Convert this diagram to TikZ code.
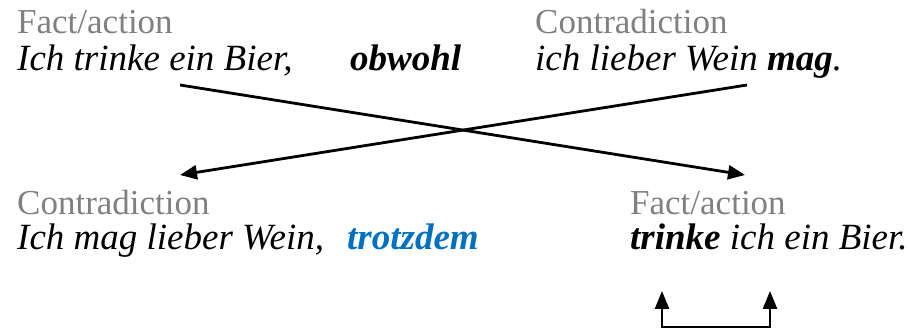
\documentclass[tikz,border=0pt]{standalone}
\usepackage{fontspec}
\setmainfont{Liberation Serif}
\usepackage{tikz}
\usetikzlibrary{arrows.meta}
\definecolor{rolegray}{RGB}{128,128,128}
\definecolor{wordblue}{RGB}{0,112,192}
\tikzstyle{roletext} = [anchor=base west, inner sep=0pt, text=rolegray,
    font=\fontsize{35}{40}\selectfont]
\tikzstyle{sentence} = [anchor=base west, inner sep=0pt, text=black,
    font=\fontsize{37}{42}\selectfont\itshape]
\tikzstyle{conj} = [sentence, font=\fontsize{37}{42}\selectfont\bfseries\itshape]
\tikzstyle{crossline} = [line width=2.8pt, -{Triangle[length=17pt,width=14pt]}]

\begin{document}
\begin{tikzpicture}[x=1pt,y=-1pt]
                \useasboundingbox (0,0) rectangle (911,331);
                % main clause first
                \node [roletext] (fact1) at (17,34) {Fact/action};
                \node [sentence] (sent1) at (17,71) {Ich trinke ein Bier,};
                \node [conj] (obwohl) at (350,71) {obwohl};
                \node [roletext] (contra1) at (535,34) {Contradiction};
                \node [sentence] (sent2) at (535,71) {ich lieber Wein \textbf{mag}.};
                % swapped order
                \node [roletext] (contra2) at (17,215) {Contradiction};
                \node [sentence] (sent3) at (17,250) {Ich mag lieber Wein,};
                \node [conj, text=wordblue] (trotzdem) at (347,250) {trotzdem};
                \node [roletext] (fact2) at (630,215) {Fact/action};
                \node [sentence] (sent4) at (630,250) {\textbf{trinke} ich ein Bier.};
                % crossing arrows
                \coordinate (factfrom) at (180,85);
                \coordinate (factto) at (745,175);
                \coordinate (contrafrom) at (747,85);
                \coordinate (contrato) at (180,175);
                \draw [crossline] (factfrom) -- (factto);
                \draw [crossline] (contrafrom) -- (contrato);
                % verb swap
                \coordinate (swapL) at (662,291);
                \coordinate (swapR) at (770,291);
                \coordinate (swapLB) at (662,327);
                \coordinate (swapRB) at (770,327);
                \draw [line width=2.6pt, {Triangle[length=18pt,width=14pt]}-{Triangle[length=18pt,width=14pt]}]
                    (swapL) -- (swapLB) -- (swapRB) -- (swapR);
            \end{tikzpicture}
\end{document}
